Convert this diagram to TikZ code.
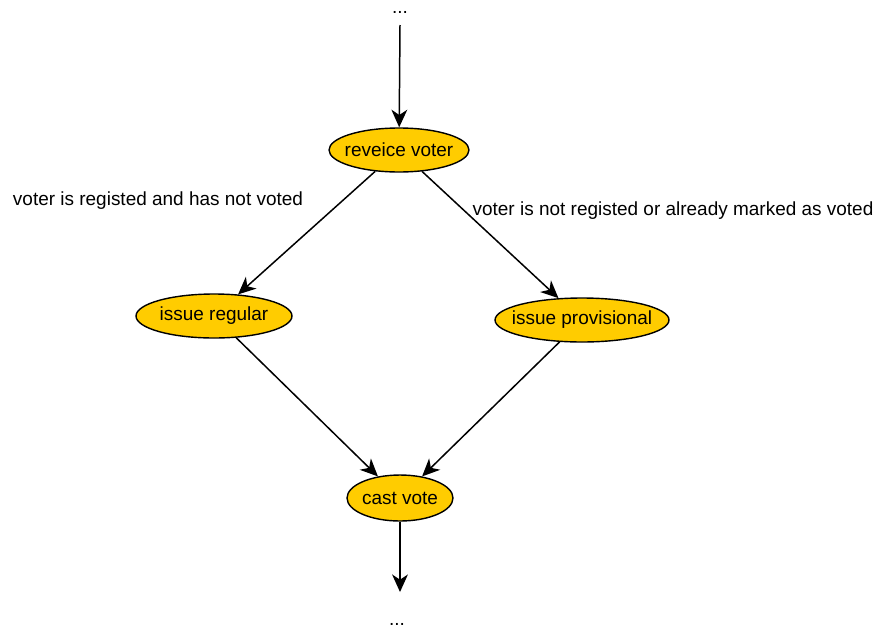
\documentclass[tikz,border=0pt]{standalone}
\usepackage{fontspec}
\setmainfont{Liberation Sans}
\usetikzlibrary{shapes.geometric,arrows.meta}
\definecolor{stategold}{HTML}{FFCC00}
\begin{document}
\begin{tikzpicture}[x=0.02cm, y=-0.02cm,
        font=\fontsize{10.8pt}{13pt}\selectfont,
        activity/.style = {ellipse, draw, fill=stategold, line width=0.8pt, inner sep=0pt, minimum height=0.88cm, label={center:#1}},
        flow/.style = {-{Stealth[length=10pt, width=9pt, inset=3pt]}, line width=0.85pt},
        guard/.style = {inner sep=0pt}
    ]
    \useasboundingbox (0, 0) rectangle (881, 629);

    \node [anchor = base] (before) at (400, 13) {...};
    \node [anchor = base] (after) at (397, 625) {...};
    \coordinate (in) at (400, 25);
    \coordinate (out) at (400, 592);

    \node [activity = {reveice voter}, minimum width = 2.8cm] (rv) at (399, 150) {};
    \node [activity = {issue regular}, minimum width = 3.12cm] (reg) at (214, 316) {};
    \node [activity = {issue provisional}, minimum width = 3.48cm] (prov) at (582, 320) {};
    \node [activity = {cast vote}, minimum width = 2.12cm, minimum height = 0.92cm] (cast) at (400, 498) {};

    \node [guard] (ok) at (158, 201) {voter is registed and has not voted};
    \node [guard] (notok) at (673, 211) {voter is not registed or already marked as voted};

    \draw [flow] (in) -- (rv);
    \draw [flow] (rv) -- (reg);
    \draw [flow] (rv) -- (prov);
    \draw [flow] (reg) -- (cast);
    \draw [flow] (prov) -- (cast);
    \draw [flow] (cast) -- (out);
\end{tikzpicture}
\end{document}
